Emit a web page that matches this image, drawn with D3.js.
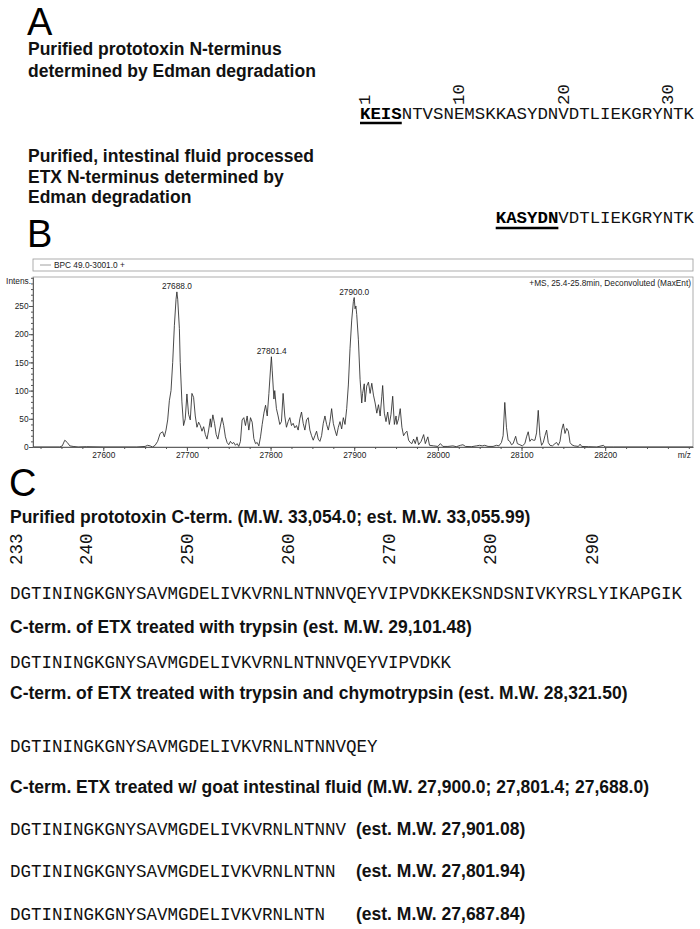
<!DOCTYPE html>
<html>
<head>
<meta charset="utf-8">
<script src="https://cdn.jsdelivr.net/npm/d3@7"></script>
<style>
  body { margin: 0; background: white; }
  .mono { font-family: "Courier New", "Liberation Mono", monospace; font-size: 17.4px; fill: #111; }
  .head { font-family: Arial, "Liberation Sans", sans-serif; font-weight: bold; font-size: 17.5px; fill: #111; }
  .panel { font-family: Arial, "Liberation Sans", sans-serif; font-size: 38px; fill: #000; }
  .small { font-family: Arial, "Liberation Sans", sans-serif; font-size: 8.3px; fill: #222; }
</style>
</head>
<body>
<div id="chart"></div>
<script>
// ---- panel B spectrum ----
const mzValues = [
  27516, 27548, 27551, 27554, 27557, 27560, 27564, 27570, 27580, 27600, 27640, 27650, 27653, 27656, 27659,
  27662, 27665, 27668, 27671, 27673, 27675, 27677, 27679, 27681, 27683, 27685, 27687, 27688, 27689, 27691,
  27692, 27694, 27696, 27698, 27700, 27702, 27704, 27706, 27708, 27710, 27712, 27714, 27716, 27718, 27720,
  27722, 27724, 27726, 27728, 27729, 27731, 27733, 27735, 27737, 27739, 27742, 27744, 27746, 27748, 27750,
  27752, 27754, 27756, 27758, 27760, 27762, 27764, 27766, 27768, 27770, 27772, 27774, 27776, 27778, 27780,
  27782, 27784, 27786, 27788, 27790, 27792, 27794, 27796, 27798, 27800, 27801, 27802, 27804, 27805, 27807,
  27809, 27811, 27813, 27815, 27817, 27819, 27821, 27823, 27825, 27827, 27829, 27831, 27833, 27835, 27837,
  27839, 27841, 27843, 27845, 27847, 27849, 27851, 27853, 27855, 27857, 27859, 27861, 27863, 27865, 27867,
  27869, 27871, 27873, 27875, 27877, 27879, 27881, 27883, 27885, 27887, 27889, 27891, 27893, 27895, 27897,
  27899, 27900, 27901, 27902, 27903, 27905, 27907, 27909, 27910, 27912, 27913, 27915, 27917, 27919, 27921,
  27923, 27925, 27927, 27929, 27931, 27933, 27934, 27936, 27938, 27940, 27942, 27944, 27946, 27948, 27950,
  27951, 27953, 27955, 27957, 27959, 27961, 27963, 27965, 27967, 27969, 27971, 27973, 27975, 27977, 27980,
  27983, 27985, 27988, 27990, 27995, 28000, 28003, 28006, 28012, 28018, 28022, 28027, 28030, 28033, 28040,
  28046, 28050, 28053, 28056, 28060, 28066, 28070, 28073, 28076, 28078, 28080, 28082, 28084, 28086, 28088,
  28090, 28093, 28095, 28098, 28101, 28104, 28106, 28108, 28110, 28112, 28114, 28116, 28118, 28120, 28122,
  28124, 28126, 28128, 28130, 28132, 28134, 28137, 28140, 28142, 28144, 28146, 28148, 28150, 28152, 28154,
  28156, 28158, 28160, 28163, 28168, 28170, 28172, 28180, 28190, 28198, 28200, 28210, 28250, 28305
];
const intensValues = [
  0, 0, 2, 12, 8, 2, 1, 0, 0.5, 0, 0, 1, 3, 2, 0,
  3, 10, 24, 27, 18, 30, 48, 82, 100, 150, 215, 262, 275, 262, 210,
  150, 80, 38, 50, 94, 58, 48, 95, 88, 55, 35, 44, 38, 28, 36,
  22, 14, 30, 50, 35, 57, 42, 22, 14, 30, 52, 38, 18, 8, 4,
  10, 6, 8, 3, 6, 1, 10, 48, 52, 38, 55, 30, 52, 44, 15,
  6, 8, 2, 18, 40, 60, 74, 55, 95, 140, 160, 135, 85, 100, 68,
  55, 40, 45, 95, 55, 35, 45, 52, 38, 42, 34, 38, 30, 50, 62,
  42, 30, 48, 52, 30, 20, 12, 20, 28, 14, 10, 20, 42, 55, 40,
  30, 45, 68, 42, 30, 20, 35, 45, 32, 52, 40, 68, 110, 175, 225,
  258, 265, 245, 250, 235, 190, 120, 78, 95, 112, 80, 108, 115, 95, 113,
  92, 78, 60, 75, 55, 90, 109, 60, 45, 62, 40, 58, 90, 40, 55,
  40, 50, 68, 35, 20, 25, 28, 12, 8, 6, 14, 6, 18, 4, 10,
  22, 6, 18, 3, 2, 1, 6, 1, 1, 2, 0.5, 3, 4, 1, 0.5,
  2, 3, 2, 3, 1, 1, 3, 2, 8, 20, 79, 35, 12, 10, 4,
  6, 19, 6, 4, 2, 6, 18, 27, 10, 14, 12, 12, 25, 65, 20,
  3, 8, 20, 30, 8, 3, 2, 6, 8, 3, 10, 30, 41, 24, 33,
  28, 8, 4, 2, 1, 5, 1, 0.5, 0, 3, 0, 0, 0, 0
];
const peakMz = [27688.0, 27801.4, 27900.0];
const peakText = ["27688.0", "27801.4", "27900.0"];
const xTickValues = [27600, 27700, 27800, 27900, 28000, 28100, 28200];
const yTickValues = [0, 50, 100, 150, 200, 250];
const spectrumLegend = "BPC 49.0-3001.0 +";
const spectrumInfo = "+MS, 25.4-25.8min, Deconvoluted (MaxEnt)";

// ---- panel A, N-termini ----
const protoNTerm = "KEISNTVSNEMSKKASYDNVDTLIEKGRYNTK";
const protoNTermBold = 4;
const protoNTermMarks = [1, 10, 20, 30];
const etxNTerm = "KASYDNVDTLIEKGRYNTK";
const etxNTermStart = 14;
const etxNTermBold = 6;

// ---- panel C, C-termini ----
const cTermFull = "DGTININGKGNYSAVMGDELIVKVRNLNTNNVQEYVIPVDKKEKSNDSNIVKYRSLYIKAPGIK";
const cTermMarks = [233, 240, 250, 260, 270, 280, 290];
const cTermTrypsin = "DGTININGKGNYSAVMGDELIVKVRNLNTNNVQEYVIPVDKK";
const cTermChymo = "DGTININGKGNYSAVMGDELIVKVRNLNTNNVQEY";
const cTermGoat = ["DGTININGKGNYSAVMGDELIVKVRNLNTNNV", "DGTININGKGNYSAVMGDELIVKVRNLNTNN", "DGTININGKGNYSAVMGDELIVKVRNLNTN"];
const cTermGoatMW = ["(est. M.W. 27,901.08)", "(est. M.W. 27,801.94)", "(est. M.W. 27,687.84)"];
const cTitles = [
  "Purified prototoxin C-term. (M.W. 33,054.0; est. M.W. 33,055.99)",
  "C-term. of ETX treated with trypsin (est. M.W. 29,101.48)",
  "C-term. of ETX treated with trypsin and chymotrypsin (est. M.W. 28,321.50)",
  "C-term. ETX treated w/ goat intestinal fluid (M.W. 27,900.0; 27,801.4; 27,688.0)"
];

let svg = d3.select('#chart').append('svg')
  .attr('width', 700).attr('height', 929)
  .style('background', 'white');

// ============ A ============
svg.append('text').attr('class', 'panel').attr('x', 27).attr('y', 34.5).text('A');

let titleA1 = ["Purified prototoxin N-terminus", "determined by Edman degradation"];
titleA1.forEach((t, i) => {
  svg.append('text').attr('class', 'head').attr('x', 28).attr('y', 55 + i * 22).text(t);
});
let titleA2 = ["Purified, intestinal fluid processed", "ETX N-terminus determined by", "Edman degradation"];
titleA2.forEach((t, i) => {
  svg.append('text').attr('class', 'head').attr('x', 28).attr('y', 162 + i * 20.6).text(t);
});

const cwA = 17.4 * 0.6;
const xA0 = 360;
// residue position -> left edge of its letter
let resX = d3.scaleLinear().domain([1, 2]).range([xA0, xA0 + cwA]);

function seqRow(str, x, y, nBold) {
  let t = svg.append('text').attr('class', 'mono').attr('x', x).attr('y', y);
  if (nBold) t.append('tspan').attr('font-weight', 'bold').attr('fill', '#000').text(str.slice(0, nBold));
  t.append('tspan').text(str.slice(nBold || 0));
  return t;
}

seqRow(protoNTerm, resX(1), 119, protoNTermBold);
svg.append('line')
  .attr('x1', resX(1)).attr('x2', resX(1 + protoNTermBold))
  .attr('y1', 123).attr('y2', 123)
  .attr('stroke', '#000').attr('stroke-width', 2.4);

protoNTermMarks.forEach(n => {
  let cx = resX(n) + cwA / 2 + 5;
  svg.append('text').attr('class', 'mono')
    .attr('transform', `translate(${cx},105) rotate(-90)`)
    .text(n);
});

seqRow(etxNTerm, resX(etxNTermStart), 223, etxNTermBold);
svg.append('line')
  .attr('x1', resX(etxNTermStart)).attr('x2', resX(etxNTermStart + etxNTermBold))
  .attr('y1', 228).attr('y2', 228)
  .attr('stroke', '#000').attr('stroke-width', 2.4);

// ============ B ============
svg.append('text').attr('class', 'panel').attr('x', 27).attr('y', 247).text('B');

let x = d3.scaleLinear().domain([27516, 28305]).range([33, 693]);
let y = d3.scaleLinear().domain([0, 301.4]).range([447, 277]);

// legend strip
svg.append('rect').attr('x', 33).attr('y', 259).attr('width', 660).attr('height', 12)
  .attr('fill', 'none').attr('stroke', '#999').attr('stroke-width', 0.8);
svg.append('line').attr('x1', 40).attr('x2', 51).attr('y1', 265).attr('y2', 265)
  .attr('stroke', '#888').attr('stroke-width', 0.8);
svg.append('text').attr('class', 'small').attr('x', 54).attr('y', 268).text(spectrumLegend);

// plot frame
svg.append('rect').attr('x', 33).attr('y', 277).attr('width', 660).attr('height', 170)
  .attr('fill', 'none').attr('stroke', '#999').attr('stroke-width', 0.8);

svg.append('defs').append('clipPath').attr('id', 'plotclip')
  .append('rect').attr('x', 33).attr('y', 277).attr('width', 660).attr('height', 171);

let points = mzValues.map((m, i) => [m, intensValues[i]]);
let line = d3.line().x(d => x(d[0])).y(d => y(d[1]));
svg.append('path').datum(points)
  .attr('clip-path', 'url(#plotclip)')
  .attr('d', line)
  .attr('fill', 'none').attr('stroke', '#2a2a2a').attr('stroke-width', 0.85)
  .attr('stroke-linejoin', 'round');

// minor ticks
let minorX = d3.range(27525, 28305, 25);
svg.append('g').attr('transform', 'translate(0,447)')
  .call(d3.axisBottom(x).tickValues(minorX).tickSize(2).tickFormat('').tickSizeOuter(0))
  .call(g => g.select('.domain').remove())
  .selectAll('line').attr('stroke', '#555');
let minorY = d3.range(0, 301, 10);
svg.append('g').attr('transform', 'translate(33,0)')
  .call(d3.axisLeft(y).tickValues(minorY).tickSize(2).tickFormat('').tickSizeOuter(0))
  .call(g => g.select('.domain').remove())
  .selectAll('line').attr('stroke', '#555');

// main axes
let xAxis = svg.append('g').attr('transform', 'translate(0,447)')
  .call(d3.axisBottom(x).tickValues(xTickValues).tickSize(4).tickPadding(1).tickSizeOuter(0).tickFormat(d3.format('d')));
let yAxis = svg.append('g').attr('transform', 'translate(33,0)')
  .call(d3.axisLeft(y).tickValues(yTickValues).tickSize(4).tickPadding(0.5).tickSizeOuter(0));
[xAxis, yAxis].forEach(a => {
  a.select('.domain').attr('stroke', '#555').attr('stroke-width', 0.9);
  a.selectAll('line').attr('stroke', '#555');
  a.selectAll('text').attr('font-family', 'Arial, "Liberation Sans", sans-serif')
    .attr('font-size', 8.3).attr('fill', '#222');
});

svg.append('text').attr('class', 'small').attr('x', 31).attr('y', 284)
  .attr('text-anchor', 'end').text('Intens.');
svg.append('text').attr('class', 'small').attr('x', 691).attr('y', 458)
  .attr('text-anchor', 'end').text('m/z');
svg.append('text').attr('class', 'small').attr('x', 691).attr('y', 286)
  .attr('text-anchor', 'end').text(spectrumInfo);

// peak labels sit just above each peak top
peakMz.forEach((m, i) => {
  let top = d3.max(points.filter(p => Math.abs(p[0] - m) <= 2), p => p[1]);
  svg.append('text').attr('class', 'small')
    .attr('x', x(m)).attr('y', y(top) - 3)
    .attr('text-anchor', 'middle').text(peakText[i]);
});

// ============ C ============
svg.append('text').attr('class', 'panel').attr('x', 9).attr('y', 496).text('C');

const xC0 = 10;
let monoC = (str, yy) => svg.append('text').attr('class', 'mono')
  .style('font-size', '17.5px').attr('x', xC0).attr('y', yy).text(str);

let headC = (str, yy) => svg.append('text').attr('class', 'head').attr('x', 10).attr('y', yy).text(str);

headC(cTitles[0], 523);
// residue number labels drift slightly from the letters in the figure
let markX = d3.scaleLinear().domain([233, 290]).range([16, 592]);
cTermMarks.forEach(n => {
  svg.append('text').attr('class', 'mono').style('font-size', '17.5px')
    .attr('transform', `translate(${markX(n) + 5.5},565) rotate(-90)`)
    .text(n);
});
monoC(cTermFull, 599);

headC(cTitles[1], 633);
monoC(cTermTrypsin, 668);

headC(cTitles[2], 699);
monoC(cTermChymo, 752);

headC(cTitles[3], 793);
let goatY = [835, 877, 920];
cTermGoat.forEach((s, i) => {
  monoC(s, goatY[i]);
  svg.append('text').attr('class', 'head').attr('x', 356).attr('y', goatY[i]).text(cTermGoatMW[i]);
});
</script>
</body>
</html>
